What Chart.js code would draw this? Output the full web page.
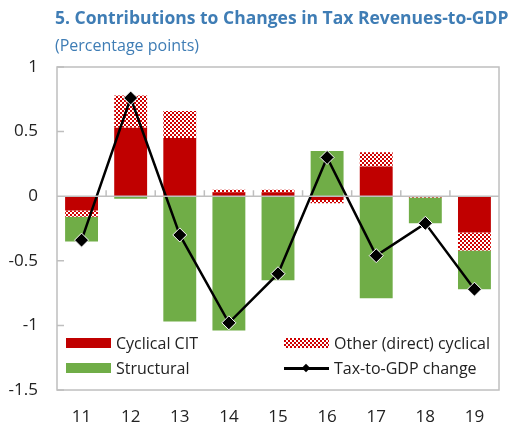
<!DOCTYPE html>
<html>
<head>
<meta charset="utf-8">
<script src="https://cdn.jsdelivr.net/npm/chart.js@4"></script>
<style>
  html, body { margin: 0; padding: 0; background: #fff; }
  body { width: 519px; height: 428px; position: relative; overflow: hidden; font-family: "Open Sans", sans-serif; }
  #wrap { position: absolute; left: 0; top: 0; width: 519px; height: 428px; }
  .title { position: absolute; left: 55px; top: 5px; color: #3F7DB5; font-weight: bold; font-size: 17.5px; white-space: nowrap; }
  .subtitle { position: absolute; left: 55px; top: 34px; color: #3F7DB5; font-size: 16px; white-space: nowrap; }
  .legend-item { position: absolute; display: flex; align-items: center; font-size: 16px; color: #222; white-space: nowrap; }
  .swatch { width: 45px; height: 10px; margin-right: 5px; }
  .sw-cit { background: #C00000; }
  .sw-str { background: #70AD47; }
  .sw-oth { background: repeating-conic-gradient(#D00000 0 25%, #fff 0 50%) 0 0 / 4px 4px; }
  .sw-line { position: relative; height: 10px; }
  .sw-line::before { content: ''; position: absolute; left: 0; right: 0; top: 4px; height: 2.5px; background: #000; }
  .sw-line::after { content: ''; position: absolute; left: 19px; top: 2px; width: 6px; height: 6px; background: #000; transform: rotate(45deg); }
</style>
</head>
<body>
<div id="wrap"><canvas id="taxChart" width="519" height="428"></canvas></div>
<div class="title">5. Contributions to Changes in Tax Revenues-to-GDP</div>
<div class="subtitle">(Percentage points)</div>
<div class="legend-item" style="left:66px; top:332px;"><div class="swatch sw-cit"></div>Cyclical CIT</div>
<div class="legend-item" style="left:284px; top:332px;"><div class="swatch sw-oth"></div>Other (direct) cyclical</div>
<div class="legend-item" style="left:66px; top:357px;"><div class="swatch sw-str"></div>Structural</div>
<div class="legend-item" style="left:284px; top:357px;"><div class="swatch sw-line"></div>Tax-to-GDP change</div>

<script>
// Data
const labels = ['11', '12', '13', '14', '15', '16', '17', '18', '19'];
const cyclicalCIT = [-0.11, 0.53, 0.45, 0.03, 0.03, -0.03, 0.23, -0.005, -0.28];
const otherCyclical = [-0.05, 0.25, 0.21, 0.02, 0.02, -0.025, 0.11, -0.005, -0.14];
const structural = [-0.19, -0.02, -0.97, -1.04, -0.65, 0.35, -0.79, -0.20, -0.30];
const taxToGdp = [-0.34, 0.76, -0.30, -0.98, -0.60, 0.30, -0.46, -0.21, -0.72];

// Pola kotak-kotak untuk "Other (direct) cyclical"
function makeChecker() {
  const c = document.createElement('canvas');
  c.width = 4; c.height = 4;
  const g = c.getContext('2d');
  g.fillStyle = '#ffffff';
  g.fillRect(0, 0, 4, 4);
  g.fillStyle = '#D00000';
  g.fillRect(0, 0, 2, 2);
  g.fillRect(2, 2, 2, 2);
  return g.createPattern(c, 'repeat');
}

// Garis nol, bingkai plot dan tick kecil
const framePlugin = {
  id: 'frame',
  afterDatasetsDraw(chart) {
    const { ctx, chartArea: a, scales: { x, y } } = chart;
    const y0 = y.getPixelForValue(0);
    ctx.save();
    ctx.strokeStyle = '#BFBFBF';
    ctx.lineWidth = 1.5;
    ctx.beginPath();
    ctx.moveTo(a.left, y0);
    ctx.lineTo(a.right, y0);
    // tick kategori di garis nol
    for (let i = 0; i < labels.length - 1; i++) {
      const xb = (x.getPixelForValue(i) + x.getPixelForValue(i + 1)) / 2;
      ctx.moveTo(xb, y0);
      ctx.lineTo(xb, y0 - 6);
    }
    // tick sumbu y ke dalam
    y.ticks.forEach(t => {
      const yp = y.getPixelForValue(t.value);
      ctx.moveTo(a.left, yp);
      ctx.lineTo(a.left + 7, yp);
    });
    ctx.stroke();
    ctx.strokeRect(a.left, a.top, a.right - a.left, a.bottom - a.top);
    ctx.restore();
  }
};

const barOpts = { categoryPercentage: 1, barPercentage: 0.67, order: 1, borderWidth: 0 };

new Chart(document.getElementById('taxChart').getContext('2d'), {
  type: 'bar',
  data: {
    labels: labels,
    datasets: [
      { label: 'Cyclical CIT', data: cyclicalCIT, backgroundColor: '#C00000', stack: 'bars', ...barOpts },
      { label: 'Other (direct) cyclical', data: otherCyclical, backgroundColor: makeChecker(), stack: 'bars', ...barOpts },
      { label: 'Structural', data: structural, backgroundColor: '#70AD47', stack: 'bars', ...barOpts },
      {
        type: 'line',
        label: 'Tax-to-GDP change',
        data: taxToGdp,
        stack: 'line',
        order: 0,
        borderColor: '#000',
        borderWidth: 2.5,
        pointStyle: 'rectRot',
        pointRadius: 7,
        pointBackgroundColor: '#000',
        pointBorderColor: '#fff',
        pointBorderWidth: 1,
        tension: 0
      }
    ]
  },
  options: {
    responsive: false,
    animation: false,
    layout: { padding: { left: 0, right: 20, top: 67, bottom: 0 } },
    plugins: { legend: { display: false }, tooltip: { enabled: false } },
    scales: {
      x: {
        stacked: true,
        grid: { display: false, drawTicks: false },
        border: { display: false },
        ticks: { color: '#222', font: { family: 'Open Sans', size: 17 }, padding: 17 },
        afterFit(s) { s.height = 38; }
      },
      y: {
        stacked: true,
        min: -1.5,
        max: 1,
        grid: { display: false, drawTicks: false },
        border: { display: false },
        ticks: {
          stepSize: 0.5,
          color: '#222',
          font: { family: 'Open Sans', size: 17 },
          padding: 19,
          callback: v => String(Math.round(v * 10) / 10)
        },
        afterFit(s) { s.width = 57; }
      }
    }
  },
  plugins: [framePlugin]
});
</script>
</body>
</html>
